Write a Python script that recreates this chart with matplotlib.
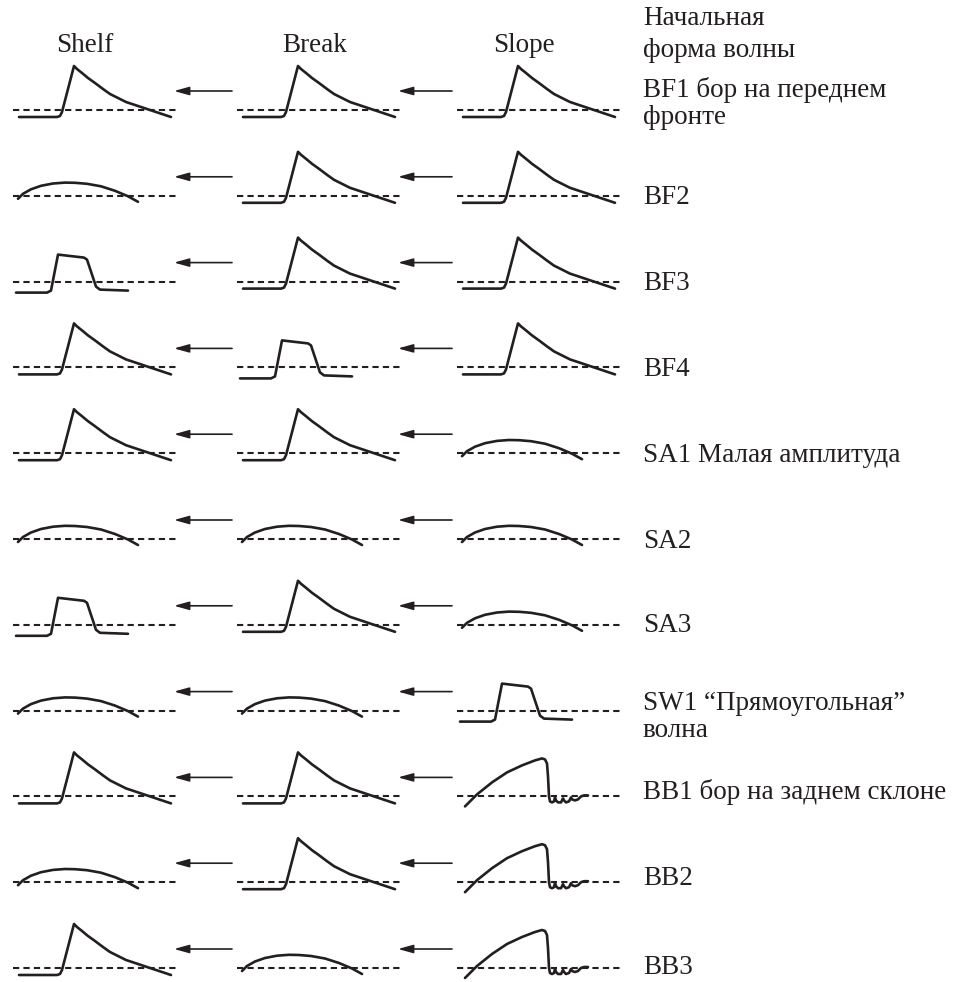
import matplotlib
matplotlib.use("Agg")
import matplotlib.pyplot as plt

# ---------------- data ----------------
column_titles = ["Shelf", "Break", "Slope"]
header_lines = ["Начальная", "форма волны"]

row_labels = [
    ["BF1 бор на переднем", "фронте"],
    ["BF2"],
    ["BF3"],
    ["BF4"],
    ["SA1 Малая амплитуда"],
    ["SA2"],
    ["SA3"],
    ["SW1 \u201cПрямоугольная\u201d", "волна"],
    ["BB1 бор на заднем склоне"],
    ["BB2"],
    ["BB3"],
]

# wave form in each column (Shelf, Break, Slope)
row_shapes = [
    ["bore", "bore", "bore"],
    ["hump", "bore", "bore"],
    ["rect", "bore", "bore"],
    ["bore", "rect", "bore"],
    ["bore", "bore", "hump"],
    ["hump", "hump", "hump"],
    ["rect", "bore", "hump"],
    ["hump", "hump", "rect"],
    ["bore", "bore", "back"],
    ["hump", "bore", "back"],
    ["bore", "hump", "back"],
]

# schematic wave profiles (offset along column, height above still level)
bore_x = [6, 44, 47, 49, 61, 64, 69, 75, 82, 90, 97, 105, 113, 122, 134, 146, 158]
bore_y = [-7, -7, -6, -2, 44, 41, 37, 32, 27, 21, 16, 12, 8, 5, 1, -3, -7]

hump_x = [5, 10, 18, 28, 40, 52, 62, 74, 88, 102, 115, 125]
hump_y = [-3, 2, 6.5, 10, 12.3, 13.2, 13, 12, 9.5, 5, -0.5, -6]

rect_x = [3, 34, 38, 45, 71, 74, 83, 87, 115]
rect_y = [-11, -11, -9, 27, 24, 22, -5, -8, -9]

back_x = [8, 20, 35, 50, 65, 78, 85, 88, 90, 91, 92, 93,
          95, 97, 98, 99, 101, 104, 106, 107, 109, 112, 114, 115, 118, 121, 124, 127, 131]
back_y = [-10, 2, 14, 24, 31, 36, 38, 37, 33, 20, 0, -5,
          -6, -5, -1, -4, -6, -6, -2, -4, -6, -5, -1, -3, -4, -3, 0, 1, 1]

profiles = {
    "bore": (bore_x, bore_y),
    "hump": (hump_x, hump_y),
    "rect": (rect_x, rect_y),
    "back": (back_x, back_y),
}

# ---------------- layout ----------------
W, H = 956, 982
col_x0 = [13, 237, 457]
col_len = 165
title_x = [85, 315, 524]
label_x = 643
row0, row_step = 110, 85.8
label_offsets = [-20, 2, 2, 2, 2, 2, 1, -7, -4, -4, 0]
line_gap = 27

fig = plt.figure(figsize=(W / 100, H / 100), dpi=100)
ax = fig.add_axes([0, 0, 1, 1])
ax.set_xlim(0, W)
ax.set_ylim(H, 0)
ax.axis("off")

ink = "#231f20"
font = dict(family=["Liberation Serif", "DejaVu Serif"], fontsize=19.5, color=ink)

for t, x in zip(column_titles, title_x):
    ax.text(x, 45, t, ha="center", va="center", **font)
for i, t in enumerate(header_lines):
    ax.text(label_x, 18 + i * 32, t, ha="left", va="center", **font)

for r, (shapes, lab) in enumerate(zip(row_shapes, row_labels)):
    base = row0 + r * row_step
    for c, shp in enumerate(shapes):
        x0 = col_x0[c]
        ax.plot([x0, x0 + col_len], [base, base], color=ink, lw=1.5,
                linestyle=(0, (3, 2)))
        px, py = profiles[shp]
        ax.plot([x0 + v for v in px], [base - v for v in py], color=ink,
                lw=1.9, solid_joinstyle="round", solid_capstyle="round")
    for c in range(2):
        xs = col_x0[c + 1] - 5
        xe = col_x0[c] + col_len - 4
        ax.annotate("", xy=(xe, base - 19), xytext=(xs, base - 19),
                    arrowprops=dict(arrowstyle="-|>,head_length=0.9,head_width=0.25",
                                    color=ink, lw=1.2, shrinkA=0, shrinkB=0))
    y = base + label_offsets[r]
    for k, line in enumerate(lab):
        ax.text(label_x, y + k * line_gap, line, ha="left", va="center", **font)

fig.savefig("out.png", dpi=100)
